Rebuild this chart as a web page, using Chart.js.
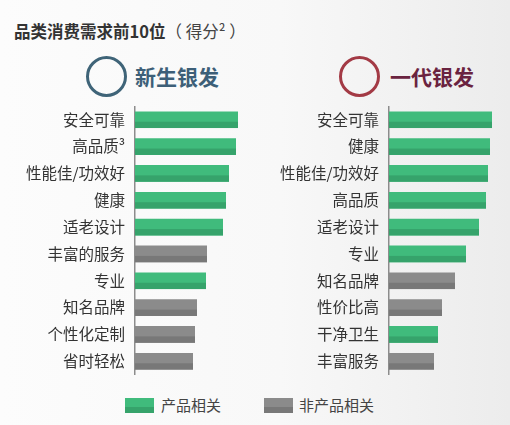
<!DOCTYPE html>
<html>
<head>
<meta charset="utf-8">
<script src="https://cdn.jsdelivr.net/npm/chart.js@4.4.0/dist/chart.umd.min.js"></script>
<style>
  html, body { margin: 0; padding: 0; }
  body {
    width: 510px; height: 425px; position: relative; overflow: hidden;
    background: linear-gradient(to right, #fcfcfc 0%, #f8f8f8 55%, #ececec 100%);
    font-family: "Noto Sans CJK SC", "Noto Sans", sans-serif; color: #333;
  }
  #title { position: absolute; left: 14px; top: 22px; font-size: 16.5px; line-height: 18px; font-weight: bold; color: #333; white-space: pre; }
  #title span { font-weight: normal; color: #444; }
  .ring { position: absolute; width: 35px; height: 35px; border-radius: 50%; border: 3px solid; }
  .head { position: absolute; top: 65px; font-size: 21px; line-height: 23px; font-weight: bold; }
  .box { position: absolute; top: 87px; height: 307px; }
  .sw { position: absolute; top: 398px; width: 29px; height: 15px; }
  .lt { position: absolute; top: 396px; font-size: 15px; line-height: 18px; color: #444; }
</style>
</head>
<body>
<div id="title">品类消费需求前10位<span>（ 得分² ）</span></div>

<div class="ring" style="left:86px; top:56px; border-color:#3f6478;"></div>
<div class="head" style="left:135px; color:#3d5f78;">新生银发</div>
<div class="ring" style="left:339px; top:56px; border-color:#a33a45;"></div>
<div class="head" style="left:390px; color:#6a2340;">一代银发</div>

<div class="box" style="left:0; width:260px;"><canvas id="chartNew"></canvas></div>
<div class="box" style="left:260px; width:250px;"><canvas id="chartOld"></canvas></div>

<div class="sw" style="left:125px; background:linear-gradient(#40bb7c 0 62%, #36a36b 62% 100%);"></div>
<div class="lt" style="left:161px;">产品相关</div>
<div class="sw" style="left:264px; background:linear-gradient(#8b8b8b 0 62%, #787878 62% 100%);"></div>
<div class="lt" style="left:299px;">非产品相关</div>

<script>
// 新生银发
const categoriesNew = ['安全可靠', '高品质³', '性能佳/功效好', '健康', '适老设计', '丰富的服务', '专业', '知名品牌', '个性化定制', '省时轻松'];
const scoresNew = [103, 101, 94, 91, 88, 72, 71, 62, 60, 58];
const productNew = [true, true, true, true, true, false, true, false, false, false];

// 一代银发
const categoriesOld = ['安全可靠', '健康', '性能佳/功效好', '高品质', '适老设计', '专业', '知名品牌', '性价比高', '干净卫生', '丰富服务'];
const scoresOld = [103, 101, 99, 97, 90, 77, 66, 53, 49, 45];
const productOld = [true, true, true, true, true, true, false, false, true, false];

const GREEN = '#40bb7c', GREEN_DARK = '#36a36b';
const GRAY = '#8b8b8b', GRAY_DARK = '#787878';

// darker strip on the lower part of each bar
const shadePlugin = {
    id: 'shade',
    afterDatasetsDraw(chart) {
        const ctx = chart.ctx;
        const flags = chart.options.plugins.shade.flags;
        chart.getDatasetMeta(0).data.forEach((bar, i) => {
            const p = bar.getProps(['x', 'y', 'base', 'height'], true);
            const h = p.height * 0.38;
            ctx.save();
            ctx.fillStyle = flags[i] ? GREEN_DARK : GRAY_DARK;
            ctx.fillRect(p.base, p.y + p.height / 2 - h, p.x - p.base, h);
            ctx.restore();
        });
    }
};

const makeChart = (id, labels, values, flags, axisWidth, padRight) => {
    const ctx = document.getElementById(id);
    new Chart(ctx, {
        type: 'bar',
        data: {
            labels: labels,
            datasets: [{
                data: values,
                backgroundColor: flags.map(f => f ? GREEN : GRAY),
                borderWidth: 0,
                categoryPercentage: 1,
                barPercentage: 0.62
            }]
        },
        options: {
            indexAxis: 'y',
            responsive: true,
            maintainAspectRatio: false,
            animation: false,
            // tick labels add ~19px above and below the plot area
            layout: { padding: { top: 0, bottom: 0, right: padRight, left: 0 } },
            plugins: {
                legend: { display: false },
                tooltip: { enabled: false },
                shade: { flags: flags }
            },
            scales: {
                x: { display: false, min: 0, max: 115 },
                y: {
                    grid: { display: true, drawOnChartArea: false, drawTicks: false },
                    border: { display: true, color: '#8c8c8c', width: 1.5 },
                    ticks: {
                        color: '#333',
                        padding: 10,
                        font: { size: 15.5, family: '"Noto Sans CJK SC", sans-serif' }
                    },
                    afterFit(scale) { scale.width = axisWidth; }
                }
            }
        },
        plugins: [shadePlugin]
    });
};

makeChart('chartNew', categoriesNew, scoresNew, productNew, 135, 10);
makeChart('chartOld', categoriesOld, scoresOld, productOld, 129, 6);
</script>
</body>
</html>
